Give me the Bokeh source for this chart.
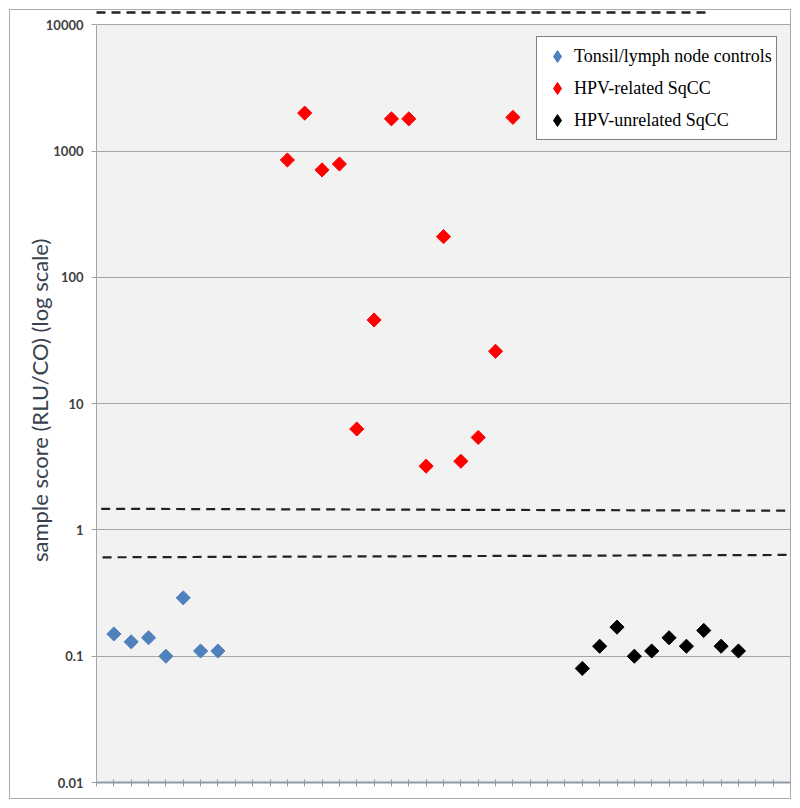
import math
from bokeh.plotting import figure
from bokeh.layouts import column
from bokeh.models import (Range1d, FixedTicker, NumeralTickFormatter, Legend, LegendItem,
                          BoxAnnotation, LinearAxis)
from bokeh.embed import file_html
from bokeh.resources import INLINE

# ---- data ----
control_x = [1, 2, 3, 4, 5, 6, 7]
control_y = [0.15, 0.13, 0.14, 0.10, 0.29, 0.11, 0.11]

hpv_rel_x = [11, 12, 13, 14, 15, 16, 17, 18, 19, 20, 21, 22, 23, 24]
hpv_rel_y = [850, 2000, 710, 790, 6.3, 46, 1800, 1800, 3.2, 210, 3.5, 5.4, 26, 1850]

hpv_unrel_x = [28, 29, 30, 31, 32, 33, 34, 35, 36, 37]
hpv_unrel_y = [0.08, 0.12, 0.17, 0.10, 0.11, 0.14, 0.12, 0.16, 0.12, 0.11]

# cutoff lines (start x, end x / start y, end y)
upper_cut_x = [0.27, 40]
upper_cut_y = [1.47, 1.42]
lower_cut_x = [0.35, 40]
lower_cut_y = [0.607, 0.634]
top_cut_x = (0, 35.16)

y_ticks = [0.01, 0.1, 1, 10, 100, 1000, 10000]
x_max = 40
y_min, y_top = 0.01, 10000
y_range_end = 12517

labels = ["Tonsil/lymph node controls", "HPV-related SqCC", "HPV-unrelated SqCC"]
colors = ["#4f81bd", "#ff0000", "#000000"]

p = figure(width=780, height=788, output_backend="svg", toolbar_location=None, title=None,
           y_axis_type="log", x_range=Range1d(0, x_max), y_range=Range1d(y_min, y_range_end),
           min_border_left=86, min_border_right=0, min_border_top=2, min_border_bottom=16)
p.background_fill_color = "white"
p.border_fill_color = "white"
p.outline_line_color = None

# grey plot area (0.01 .. 10000)
p.add_layout(BoxAnnotation(bottom=y_min, top=y_top, fill_color="#f2f2f2", fill_alpha=1,
                           line_color=None, level="image"))

p.xgrid.visible = False
p.ygrid.grid_line_color = "#a6a6a6"
p.ygrid.grid_line_width = 1
p.ygrid.ticker = FixedTicker(ticks=y_ticks)

# y axis
p.yaxis.ticker = FixedTicker(ticks=y_ticks)
p.yaxis.formatter = NumeralTickFormatter(format="0.[00]")
p.yaxis.bounds = (y_min, y_top)
p.yaxis.axis_line_color = "#a6a6a6"
p.yaxis.major_tick_line_color = "#a6a6a6"
p.yaxis.major_tick_out = 5
p.yaxis.major_tick_in = 0
p.yaxis.minor_tick_line_color = None
p.yaxis.major_label_text_font = "Lato"
p.yaxis.major_label_text_font_style = "bold"
p.yaxis.major_label_text_font_size = "13px"
p.yaxis.major_label_text_color = "#404040"
p.yaxis.major_label_standoff = 8
p.yaxis.axis_label = "sample score (RLU/CO)  (log scale)"
p.yaxis.axis_label_text_font = "Lato"
p.yaxis.axis_label_text_font_style = "normal"
p.yaxis.axis_label_text_font_size = "22px"
p.yaxis.axis_label_text_color = "#38434f"
p.yaxis.axis_label_standoff = -10

# x axis (ticks only)
x_ticks = list(range(0, x_max))
p.xaxis.ticker = FixedTicker(ticks=x_ticks)
p.xaxis.major_label_overrides = {t: "" for t in x_ticks}
p.xaxis.major_label_text_font_size = "1px"
p.xaxis.major_label_standoff = 0
p.xaxis.axis_line_color = "#8e9aa8"
p.xaxis.axis_line_width = 2
p.xaxis.major_tick_line_color = "#8e9aa8"
p.xaxis.major_tick_line_width = 1
p.xaxis.major_tick_in = 3
p.xaxis.major_tick_out = 4
p.xaxis.minor_tick_line_color = None

# top dashed cutoff line, drawn as a bare axis line above the plot area
top_axis = LinearAxis(ticker=FixedTicker(ticks=[]), bounds=top_cut_x,
                      axis_line_color="#222222", axis_line_width=2.5, axis_line_dash="9 6",
                      major_tick_line_color=None, minor_tick_line_color=None,
                      major_label_text_font_size="1px", major_label_standoff=0)
p.add_layout(top_axis, "above")

# cutoff lines
p.line(upper_cut_x, upper_cut_y, line_color="#222222", line_width=2.2, line_dash="9 6")
p.line(lower_cut_x, lower_cut_y, line_color="#222222", line_width=2.2, line_dash="9 6")

rs = []
for xs, ys, c in [(control_x, control_y, colors[0]), (hpv_rel_x, hpv_rel_y, colors[1]),
                  (hpv_unrel_x, hpv_unrel_y, colors[2])]:
    p.scatter(xs, ys, marker="square", angle=math.pi / 4, size=10, fill_color=c, line_color=c)
    # hidden twin renderer used only for the legend swatch (diamond shape)
    rs.append(p.scatter(xs, ys, marker="diamond", fill_color=c, line_color=c, visible=False))

legend = Legend(items=[LegendItem(label=l, renderers=[r]) for l, r in zip(labels, rs)],
                location=(440, 642))
legend.label_text_font = "Liberation Serif"
legend.label_text_font_size = "18px"
legend.label_text_color = "#000000"
legend.border_line_color = "#000000"
legend.border_line_width = 1
legend.background_fill_color = "white"
legend.background_fill_alpha = 1
legend.inactive_fill_alpha = 0
legend.padding = 4
legend.spacing = 2
legend.label_height = 30
legend.glyph_height = 30
legend.glyph_width = 32
legend.label_standoff = 1
legend.margin = 0
p.add_layout(legend, "center")

layout = column(p, spacing=0)
layout.styles = {"border": "1px solid #a6acb4", "margin-left": "9px", "margin-top": "9px"}

open("out.html", "w").write(file_html(layout, INLINE))
